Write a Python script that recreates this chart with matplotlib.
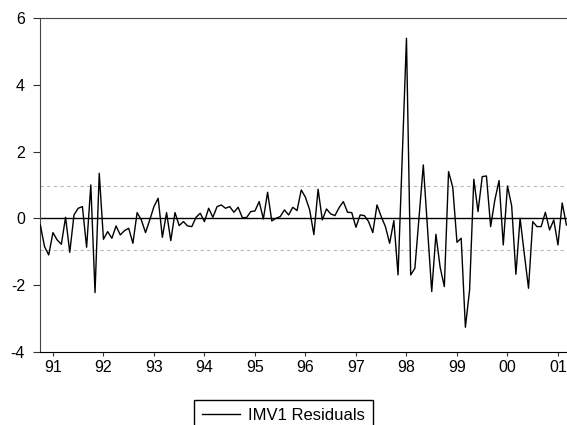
import matplotlib
matplotlib.use("Agg")
import numpy as np
from matplotlib import pyplot as plt

# monthly residuals, 1990M10 .. 2001M03
residuals = [
    -0.20, -0.85, -1.10, -0.43, -0.65, -0.78, 0.03, -1.02, 0.10, 0.30,
    0.35, -0.87, 1.00, -2.23, 1.35, -0.63, -0.40, -0.60, -0.23, -0.50,
    -0.37, -0.30, -0.75, 0.17, -0.05, -0.43, -0.05, 0.35, 0.60, -0.57,
    0.17, -0.67, 0.17, -0.22, -0.10, -0.23, -0.25, 0.03, 0.15, -0.10,
    0.30, 0.03, 0.35, 0.40, 0.30, 0.35, 0.18, 0.33, 0.02, 0.02,
    0.20, 0.22, 0.50, -0.02, 0.78, -0.08, 0.00, 0.05, 0.25, 0.10,
    0.33, 0.23, 0.85, 0.63, 0.25, -0.49, 0.87, -0.05, 0.28, 0.13,
    0.08, 0.32, 0.50, 0.18, 0.17, -0.27, 0.10, 0.08, -0.10, -0.43,
    0.40, 0.05, -0.25, -0.75, -0.07, -1.70, 1.85, 5.40, -1.70, -1.50,
    0.05, 1.60, -0.30, -2.20, -0.48, -1.47, -2.05, 1.40, 0.93, -0.72,
    -0.60, -3.27, -2.15, 1.17, 0.20, 1.25, 1.27, -0.25, 0.55, 1.13,
    -0.80, 0.97, 0.37, -1.68, 0.00, -1.07, -2.10, -0.10, -0.25, -0.25,
    0.18, -0.35, -0.05, -0.80, 0.46, -0.20,
]
start_month = 10          # first observation is October 1990
year_labels = ['91', '92', '93', '94', '95', '96', '97', '98', '99', '00', '01']
se_band = 0.96            # +/- one standard error
y_ticks = [-4, -2, 0, 2, 4, 6]

plt.rcParams['font.family'] = ['Liberation Sans', 'DejaVu Sans']

fig = plt.figure(figsize=(5.67, 4.25), dpi=100)
ax = fig.add_axes([0.0711, 0.1727, 0.936, 0.7843])

t = np.arange(len(residuals))
ax.axhline(0, color='black', lw=1.0, zorder=2)
ax.axhline(se_band, color='#b8b8b8', lw=0.8, ls=(0, (3, 3)), zorder=1)
ax.axhline(-se_band, color='#b8b8b8', lw=0.8, ls=(0, (3, 3)), zorder=1)
ax.plot(t, residuals, color='black', lw=1.0, label='IMV1 Residuals', zorder=3)

# year ticks sit on the January observation
first_jan = 12 - start_month + 1
jan_idx = [first_jan + 12 * i for i in range(len(year_labels))]
ax.set_xticks(jan_idx)
ax.set_xticklabels(year_labels)
ax.set_yticks(y_ticks)
ax.set_yticklabels([str(v) for v in y_ticks])
ax.set_xlim(0, 126.1)
ax.set_ylim(-4, 6)

ax.tick_params(axis='y', direction='out', length=5, width=0.8, pad=6,
               labelsize=11.5, color='#333333')
ax.tick_params(axis='x', direction='out', length=3, width=0.8, pad=3,
               labelsize=11.5, color='#333333')
for side in ['left', 'top']:
    ax.spines[side].set_color('#444444')
ax.spines['bottom'].set_color('black')
ax.spines['right'].set_visible(False)

# legend box runs off the bottom edge, as in the original export
fig.legend(loc='upper center', bbox_to_anchor=(0.5, 0.0588), fontsize=12,
           frameon=True, fancybox=False, edgecolor='black', framealpha=1,
           handlelength=2.3, handletextpad=0.5, borderpad=0.45,
           borderaxespad=0)

fig.savefig('out.png', dpi=100)
